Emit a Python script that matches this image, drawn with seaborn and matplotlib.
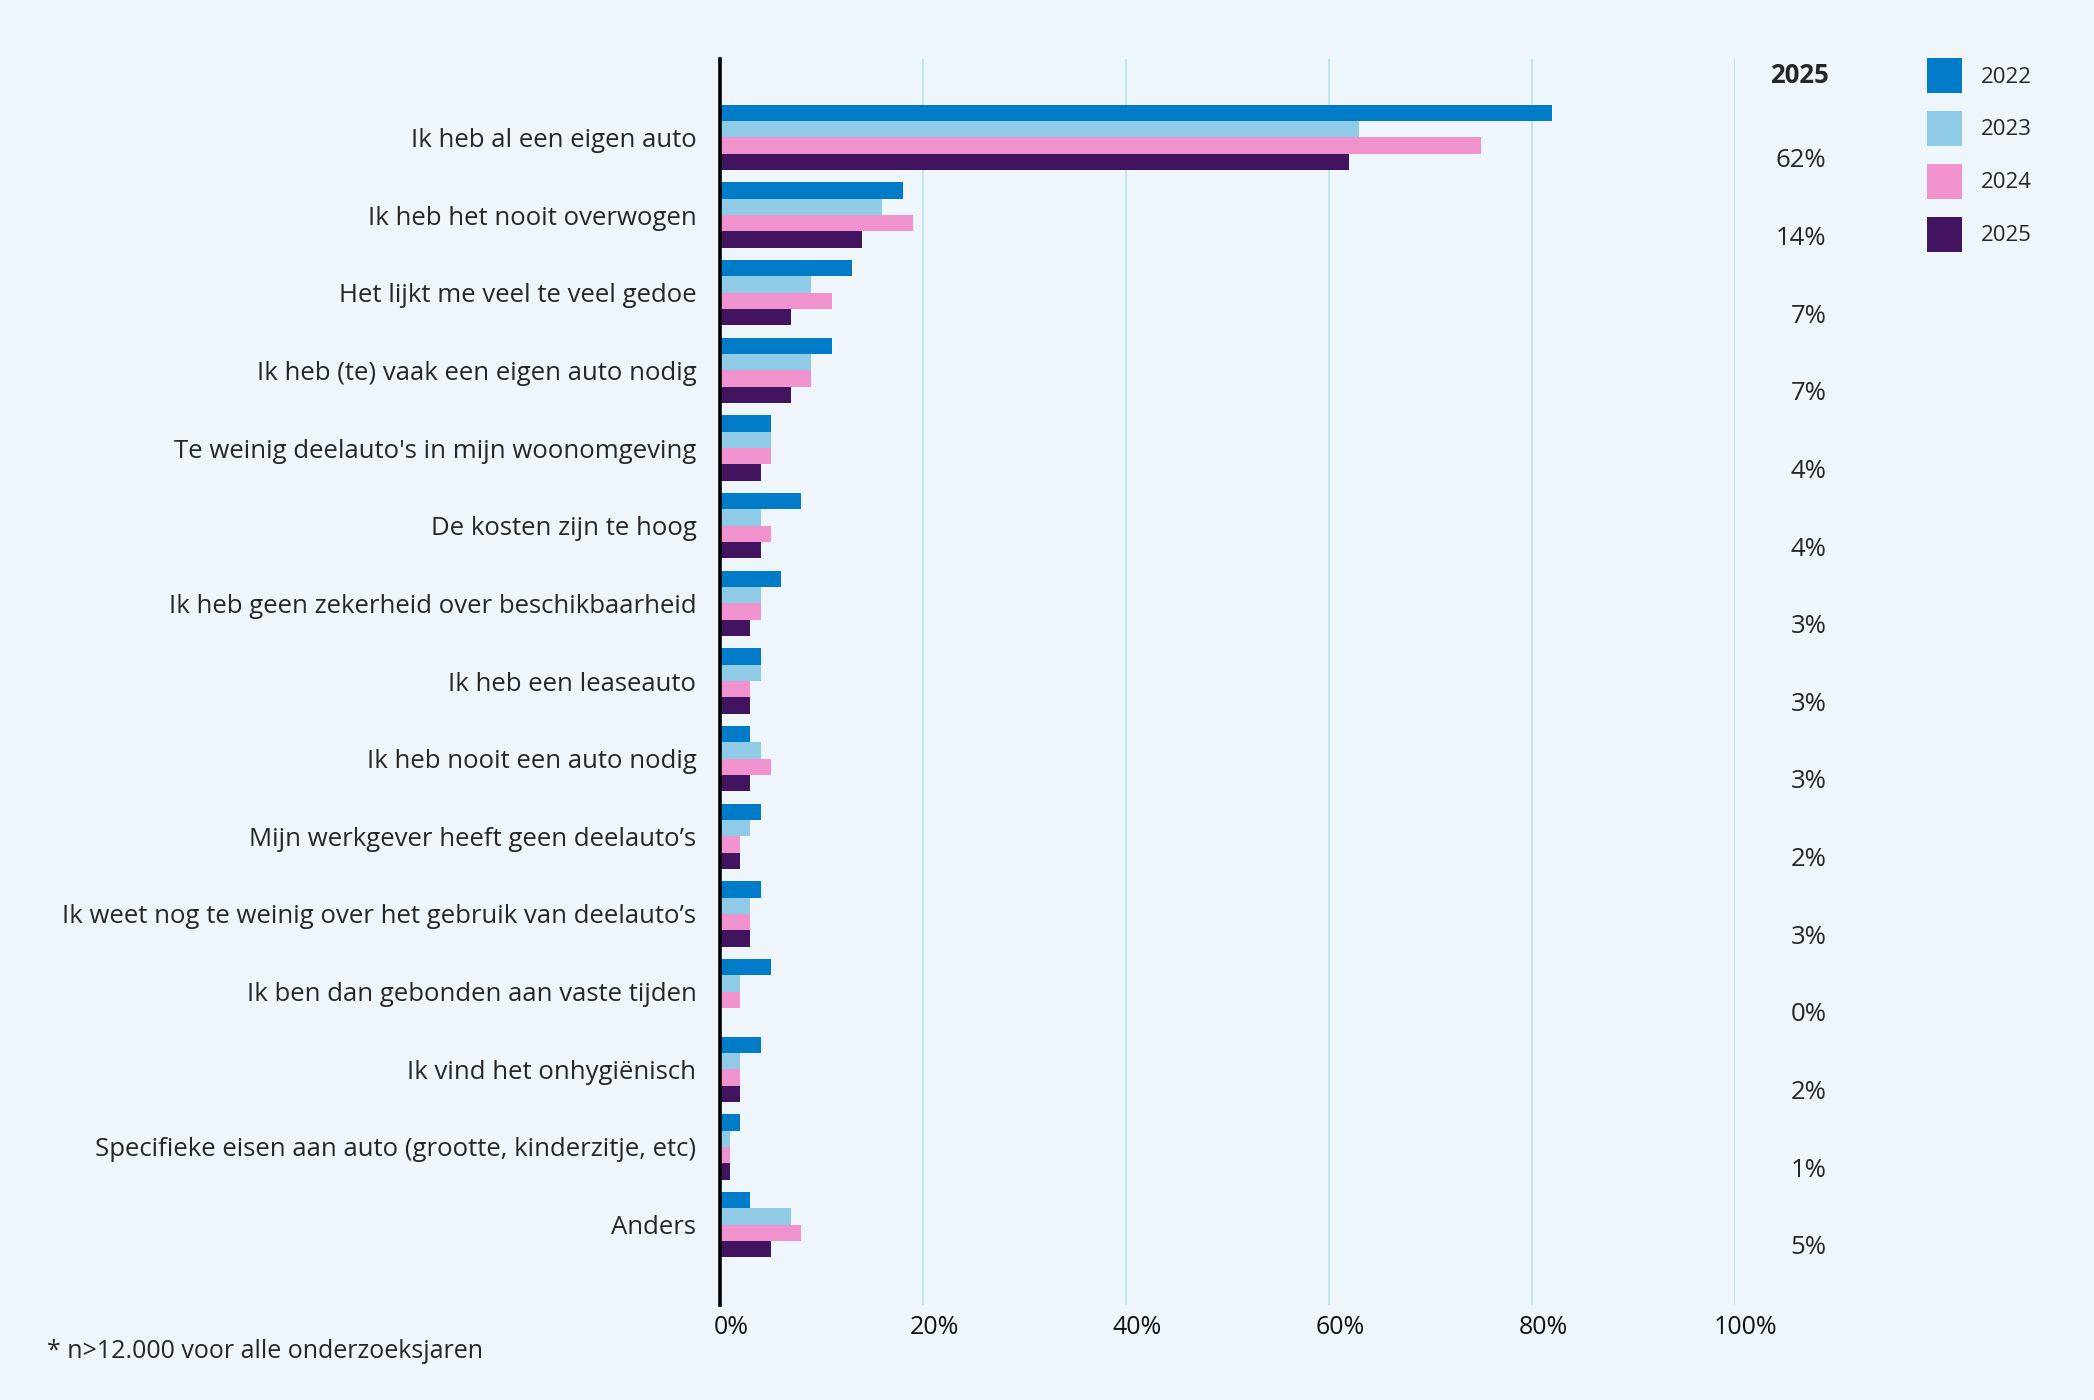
import matplotlib
matplotlib.use("Agg")
import matplotlib.pyplot as plt
import matplotlib.transforms as mtransforms
import seaborn as sns
import pandas as pd

# data (percentages)
categories = [
    "Ik heb al een eigen auto",
    "Ik heb het nooit overwogen",
    "Het lijkt me veel te veel gedoe",
    "Ik heb (te) vaak een eigen auto nodig",
    "Te weinig deelauto's in mijn woonomgeving",
    "De kosten zijn te hoog",
    "Ik heb geen zekerheid over beschikbaarheid",
    "Ik heb een leaseauto",
    "Ik heb nooit een auto nodig",
    "Mijn werkgever heeft geen deelauto\u2019s",
    "Ik weet nog te weinig over het gebruik van deelauto\u2019s",
    "Ik ben dan gebonden aan vaste tijden",
    "Ik vind het onhygi\u00ebnisch",
    "Specifieke eisen aan auto (grootte, kinderzitje, etc)",
    "Anders",
]
years = ["2022", "2023", "2024", "2025"]
v2022 = [82, 18, 13, 11, 5, 8, 6, 4, 3, 4, 4, 5, 4, 2, 3]
v2023 = [63, 16, 9, 9, 5, 4, 4, 4, 4, 3, 3, 2, 2, 1, 7]
v2024 = [75, 19, 11, 9, 5, 5, 4, 3, 5, 2, 3, 2, 2, 1, 8]
v2025 = [62, 14, 7, 7, 4, 4, 3, 3, 3, 2, 3, 0, 2, 1, 5]
colors = ["#007BC7", "#8FCAE6", "#F092CD", "#42145F"]
xticks = [0, 20, 40, 60, 80, 100]

# long-format table for seaborn
df = pd.DataFrame({
    "categorie": categories * 4,
    "jaar": [y for y in years for _ in categories],
    "waarde": v2022 + v2023 + v2024 + v2025,
})

bg = "#EEF6FC"
sns.set_style("white")
plt.rcParams["font.family"] = ["Open Sans", "DejaVu Sans"]

fig = plt.figure(figsize=(20.94, 14), dpi=100, facecolor=bg)
ax = fig.add_axes([720/2094, 1 - 1305/1400, (1735 - 720)/2094, (1305 - 59)/1400])
ax.set_facecolor(bg)

sns.barplot(data=df, y="categorie", x="waarde", hue="jaar", orient="h",
            palette=colors, width=0.84, order=categories, hue_order=years,
            saturation=1, linewidth=0, ax=ax, legend=True)

ax.set_xlim(0, 100)
ax.set_ylim(14 + 1.035, -1.01)
ax.set_xticks(xticks)
ax.set_xticklabels([f"{t}%" for t in xticks], fontsize=18, color="#111111")
ax.tick_params(axis="x", length=0, pad=7)
ax.tick_params(axis="y", length=0, pad=17, labelsize=18.5)
shift = mtransforms.ScaledTranslation(11/100, 0, fig.dpi_scale_trans)
for lbl in ax.get_xticklabels():
    lbl.set_transform(lbl.get_transform() + shift)
ax.set_xlabel("")
ax.set_ylabel("")
ax.grid(axis="x", color="#BFE1EC", linewidth=1.3)
ax.set_axisbelow(True)
for s in ["top", "right", "bottom"]:
    ax.spines[s].set_visible(False)
ax.spines["left"].set_color("black")
ax.spines["left"].set_linewidth(2.6)
ax.spines["left"].set_zorder(5)

# column with the 2025 values
ax.text(106.4, -0.8, "2025", ha="center", va="center", fontsize=18.5,
        fontweight="bold", clip_on=False)
for i, v in enumerate(v2025):
    ax.text(109, i + 0.3, f"{v}%", ha="right", va="center", fontsize=18.5,
            clip_on=False)

# legend in the top right corner
handles, labels = ax.get_legend_handles_labels()
ax.legend(handles, labels, loc="upper left",
          bbox_to_anchor=(1927/2094, 1 - 58/1400), bbox_transform=fig.transFigure,
          frameon=False, fontsize=16, handlelength=1.58, handleheight=2.05,
          handletextpad=0.85, labelspacing=0.8, borderpad=0, borderaxespad=0)

fig.text(47/2094, 1 - 1352/1400, "* n>12.000 voor alle onderzoeksjaren",
         fontsize=18, va="center", ha="left")

fig.savefig("out.png", dpi=100, facecolor=bg)
